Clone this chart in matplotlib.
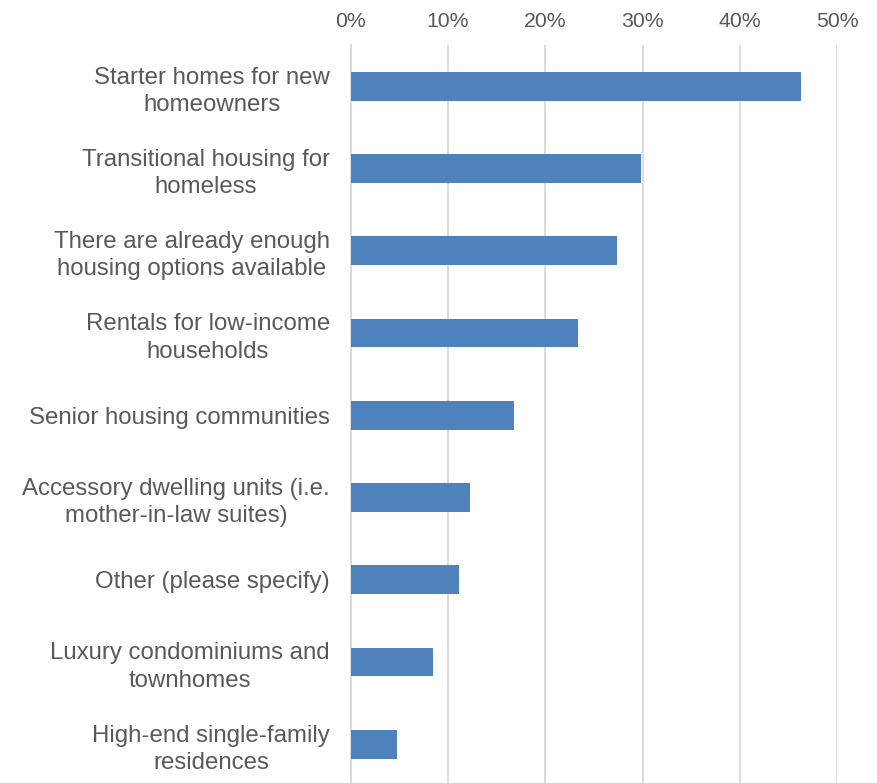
import matplotlib.pyplot as plt
from matplotlib.ticker import PercentFormatter

# Datos de la encuesta (de arriba hacia abajo)
categorias = [
    "Starter homes for new\nhomeowners",
    "Transitional housing for\nhomeless",
    "There are already enough\nhousing options available",
    "Rentals for low-income\nhouseholds",
    "Senior housing communities",
    "Accessory dwelling units (i.e.\nmother-in-law suites)",
    "Other (please specify)",
    "Luxury condominiums and\ntownhomes",
    "High-end single-family\nresidences",
]
valores = [46.3, 29.8, 27.4, 23.4, 16.8, 12.3, 11.1, 8.5, 4.8]
ticks = [0, 10, 20, 30, 40, 50]

plt.rcParams['font.family'] = ['Liberation Sans', 'DejaVu Sans']
gris = '#595959'

fig = plt.figure(figsize=(8.78, 7.83), dpi=100)
ax = fig.add_axes([0.3995, -0.003, 0.5538, 0.9455])

pos = list(range(len(categorias)))
ax.barh(pos, valores, height=0.35, color='#4F81BD', zorder=3)

ax.set_ylim(len(categorias) - 0.5, -0.5)
ax.set_xlim(0, 50)
ax.set_yticks(pos)
ax.set_yticklabels(categorias, fontsize=17.3, color=gris, ha='right')
ax.set_xticks(ticks)
ax.xaxis.set_major_formatter(PercentFormatter(decimals=0))
ax.xaxis.tick_top()
ax.tick_params(axis='x', length=0, labelsize=15.3, labelcolor=gris, pad=10)
ax.tick_params(axis='y', length=0, pad=15)

# líneas de cada etiqueta centradas entre sí
for lab in ax.get_yticklabels():
    lab.set_multialignment('center')
    lab.set_linespacing(1.3)

ax.grid(axis='x', color='#D9D9D9', linewidth=1.3, zorder=0)
for s in ['top', 'right', 'bottom']:
    ax.spines[s].set_visible(False)
ax.spines['left'].set_color('#D9D9D9')
ax.spines['left'].set_linewidth(1.3)

fig.savefig('out.png', dpi=100)
